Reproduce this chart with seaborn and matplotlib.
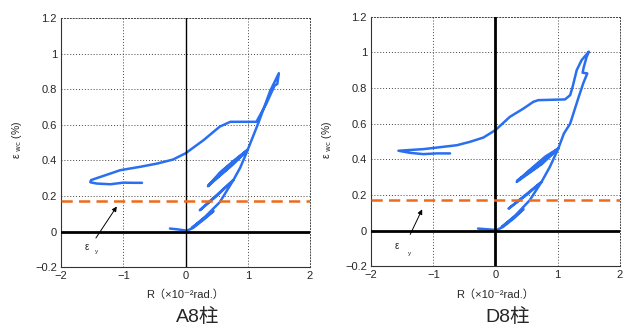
import matplotlib
matplotlib.use("Agg")
import matplotlib.pyplot as plt
import seaborn as sns

# A8 column: drift ratio R (x10^-2 rad) vs strain eps_wc (%)
a8_R = [-0.25, -0.12, 0.02, 0.12, 0.30, 0.45, 0.30, 0.10, 0.32, 0.55, 0.77, 0.50, 0.23,
        0.50, 0.77, 0.88, 1.00, 0.75, 0.55, 0.36, 0.55, 0.80, 1.00, 0.72, 0.37, 0.60,
        1.00, 1.17, 1.36, 1.50, 1.475, 1.43, 1.30, 1.14, 0.72, 0.55, 0.29, 0.0, -0.20,
        -0.46, -0.73, -1.05, -1.21, -1.43, -1.52, -1.53, -1.43, -1.21, -1.00, -0.84, -0.70]
a8_eps = [0.017, 0.012, 0.005, 0.02, 0.07, 0.115, 0.075, 0.02, 0.085, 0.165, 0.29, 0.20, 0.12,
          0.205, 0.29, 0.36, 0.46, 0.375, 0.315, 0.255, 0.33, 0.405, 0.46, 0.365, 0.26, 0.345,
          0.46, 0.61, 0.79, 0.89, 0.83, 0.82, 0.72, 0.617, 0.617, 0.59, 0.514, 0.44, 0.405,
          0.382, 0.364, 0.345, 0.326, 0.30, 0.289, 0.277, 0.27, 0.266, 0.275, 0.274, 0.274]

# D8 column
d8_R = [-0.28, -0.09, 0.02, 0.12, 0.30, 0.45, 0.30, 0.10, 0.32, 0.55, 0.74, 0.50, 0.21,
        0.50, 0.74, 0.875, 1.01, 0.75, 0.55, 0.34, 0.55, 0.80, 1.01, 0.72, 0.35, 0.60,
        1.01, 1.10, 1.20, 1.33, 1.41, 1.475, 1.40, 1.42, 1.465, 1.50, 1.385, 1.305, 1.24,
        1.20, 1.117, 0.69, 0.61, 0.45, 0.23, 0.0, -0.195, -0.41, -0.62, -0.84, -1.16,
        -1.56, -1.37, -1.16, -0.945, -0.73]
d8_eps = [0.011, 0.006, 0.003, 0.02, 0.07, 0.12, 0.075, 0.02, 0.085, 0.17, 0.273, 0.20, 0.123,
          0.205, 0.273, 0.358, 0.461, 0.375, 0.325, 0.273, 0.34, 0.415, 0.461, 0.37, 0.28, 0.35,
          0.461, 0.545, 0.60, 0.742, 0.826, 0.882, 0.886, 0.919, 0.975, 1.004, 0.957, 0.90, 0.807,
          0.76, 0.736, 0.732, 0.723, 0.685, 0.638, 0.564, 0.522, 0.498, 0.479, 0.47, 0.457,
          0.448, 0.436, 0.429, 0.433, 0.433]

eps_y = 0.17
titles = ["A8柱", "D8柱"]
xticks = [-2, -1, 0, 1, 2]
yticks = [-0.2, 0, 0.2, 0.4, 0.6, 0.8, 1, 1.2]
ytick_labels = ["\u22120.2", "0", "0.2", "0.4", "0.6", "0.8", "1", "1.2"]
xtick_labels = ["\u22122", "\u22121", "0", "1", "2"]

sns.set_style("white")
plt.rcParams["font.family"] = ["Liberation Sans", "Noto Sans CJK JP", "DejaVu Sans"]

fig = plt.figure(figsize=(6.3, 3.29), dpi=100)
ax1 = fig.add_axes([0.097, 0.188, 0.395, 0.757])
ax2 = fig.add_axes([0.589, 0.191, 0.395, 0.758])

blue = "#2a6ff0"
orange = "#ee6a1a"

panels = [(ax1, a8_R, a8_eps, 1.0), (ax2, d8_R, d8_eps, 2.0)]
for i, (ax, R, eps, vlw) in enumerate(panels):
    sns.lineplot(x=R, y=eps, sort=False, estimator=None, color=blue, lw=1.8, ax=ax)
    ax.axhline(0, color="black", lw=2, zorder=3)
    ax.axvline(0, color="black", lw=vlw, zorder=3)
    ax.axhline(eps_y, color=orange, lw=1.8, dashes=(4.5, 2.5), zorder=4)

    ax.set_xlim(-2, 2)
    ax.set_ylim(-0.2, 1.2)
    ax.set_xticks(xticks)
    ax.set_xticklabels(xtick_labels)
    ax.set_yticks(yticks)
    ax.set_yticklabels(ytick_labels)
    ax.tick_params(labelsize=8, length=2, direction="in", pad=3)
    ax.grid(True, color="#444444", lw=0.7, linestyle=(0, (1, 2)))
    for s in ["top", "right"]:
        ax.spines[s].set_linestyle((0, (1, 2)))
        ax.spines[s].set_color("#444444")
        ax.spines[s].set_linewidth(0.7)
    for s in ["left", "bottom"]:
        ax.spines[s].set_color("#333333")
        ax.spines[s].set_linewidth(0.8)
    ax.set_xlabel("")
    ax.set_ylabel("")

    # eps_y annotation
    if i == 0:
        tail, head, ty = (-1.465, -0.049), (-1.08, 0.154), (-1.43, -0.11)
    else:
        tail, head, ty = (-1.39, -0.036), (-1.16, 0.133), (-1.38, -0.13)
    ax.annotate("", xy=head, xytext=tail,
                arrowprops=dict(arrowstyle="-|>", color="black", lw=0.7, mutation_scale=7))
    ax.text(-1.58, -0.085, "ε", fontsize=7, ha="center", va="center")
    ax.text(ty[0], ty[1], "y", fontsize=4.5, ha="center", va="center")

    x0 = ax.get_position().x0
    xc = (ax.get_position().x0 + ax.get_position().x1) / 2
    fig.text(x0 - 0.07, 0.575, "ε $_{\\rm wc}$ (%)", rotation=90, fontsize=7.5,
             ha="center", va="center")
    fig.text(xc, 0.103, "R（×10⁻²rad.）", fontsize=8, ha="center", va="center")
    fig.text(xc + 0.02, 0.036, titles[i], fontsize=14, ha="center", va="center")

fig.savefig("out.png", dpi=100)
